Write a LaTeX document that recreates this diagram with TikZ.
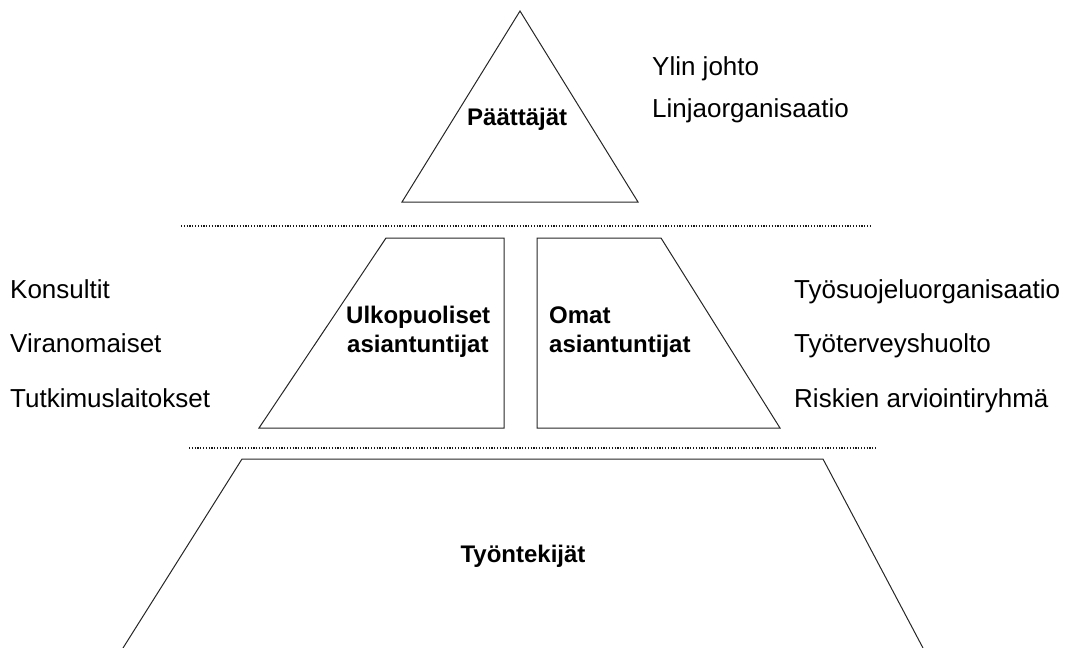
\documentclass[tikz,border=0pt]{standalone}
\usepackage{fontspec}
\setmainfont{Liberation Sans}
\begin{document}
\begin{tikzpicture}[x=1pt,y=-1pt,
  shapeline/.style={draw=black!85, line width=1pt, line join=miter},
  sepline/.style={draw=black!90, line width=1.2pt, dash pattern=on 1.2pt off 1.6pt},
  lbl/.style={anchor=base west, inner sep=0pt, font=\fontsize{26}{31}\selectfont},
  ttl/.style={anchor=base west, inner sep=0pt, font=\fontsize{24}{29}\selectfont\bfseries}]
\useasboundingbox (0,0) rectangle (1072,648);

% decision makers (triangle)
\coordinate (apex) at (520,11);
\coordinate (tbr) at (638,202);
\coordinate (tbl) at (402,202);
\draw[shapeline] (apex) -- (tbr) -- (tbl) -- cycle;

% separators
\coordinate (s1a) at (181,226); \coordinate (s1b) at (871,226);
\coordinate (s2a) at (189,448); \coordinate (s2b) at (877,448);
\draw[sepline] (s1a) -- (s1b);
\draw[sepline] (s2a) -- (s2b);

% external experts
\coordinate (lt1) at (386,238); \coordinate (lt2) at (504,238);
\coordinate (lt3) at (504,428); \coordinate (lt4) at (259,428);
\draw[shapeline] (lt1) -- (lt2) -- (lt3) -- (lt4) -- cycle;

% own experts
\coordinate (rt1) at (537,238); \coordinate (rt2) at (661,238);
\coordinate (rt3) at (780,428); \coordinate (rt4) at (537,428);
\draw[shapeline] (rt1) -- (rt2) -- (rt3) -- (rt4) -- cycle;

% employees
\coordinate (bt1) at (123,648); \coordinate (bt2) at (242,459);
\coordinate (bt3) at (823,459); \coordinate (bt4) at (923,648);
\draw[shapeline] (bt1) -- (bt2) -- (bt3) -- (bt4);

% titles
\node[ttl] (paat) at (467,125) {Päättäjät};
\node[ttl] (ulk1) at (346,323) {Ulkopuoliset};
\node[ttl] (ulk2) at (347,352) {asiantuntijat};
\node[ttl] (om1) at (549,323) {Omat};
\node[ttl] (om2) at (549,352) {asiantuntijat};
\node[ttl, anchor=base] (tyon) at (523,562) {Työntekijät};

% side labels
\node[lbl] (ylin) at (652,75) {Ylin johto};
\node[lbl] (linja) at (652,117) {Linjaorganisaatio};
\node[lbl] (kons) at (10,298) {Konsultit};
\node[lbl] (vira) at (10,352) {Viranomaiset};
\node[lbl] (tutk) at (10,407) {Tutkimuslaitokset};
\node[lbl] (tsuo) at (794,298) {Työsuojeluorganisaatio};
\node[lbl] (tter) at (794,352) {Työterveyshuolto};
\node[lbl] (risk) at (794,407) {Riskien arviointiryhmä};
\end{tikzpicture}
\end{document}
